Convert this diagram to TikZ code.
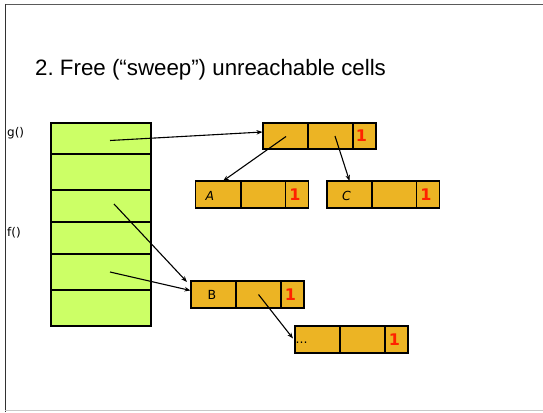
\documentclass[tikz,border=0pt]{standalone}
\usepackage{fontspec}
\setmainfont{Liberation Sans}
\newfontfamily\cellfont{DejaVu Sans}
\newfontfamily\framefont{DejaVu Sans}
\usetikzlibrary{arrows.meta,calc}
\frenchspacing
\definecolor{stackgreen}{RGB}{204,255,102}
\definecolor{cellorange}{RGB}{236,180,36}
\definecolor{countred}{RGB}{255,34,0}
\definecolor{frametop}{RGB}{90,90,90}
\definecolor{frameside}{RGB}{50,50,50}
\definecolor{framebottom}{RGB}{200,200,200}
\tikzset{
  stk/.style={draw=black, line width=1.5pt, fill=stackgreen, minimum width=100pt, inner sep=0pt, outer sep=0pt},
  heapcell/.style={draw=black, line width=1.5pt, fill=cellorange, minimum height=27pt, inner sep=0pt, outer sep=0pt},
  wide/.style={heapcell, minimum width=45pt},
  narrow/.style={heapcell, minimum width=23pt},
  ptr/.style={line width=1.1pt, -{Stealth[length=6pt,width=4.5pt]}},
  cnt/.style={font=\cellfont\bfseries\fontsize{16}{16}\selectfont, text=countred},
  lbl/.style={font=\cellfont\fontsize{12.5}{12.5}\selectfont},
  ilbl/.style={font=\cellfont\itshape\fontsize{12.5}{12.5}\selectfont},
  framelbl/.style={font=\framefont\fontsize{12}{12}\selectfont, anchor=west, inner sep=0pt}
}
\begin{document}
\begin{tikzpicture}[x=1pt,y=-1pt]
\useasboundingbox (0,0) rectangle (543,412);
% slide frame
\draw[frametop, line width=1.3pt] (5,4.5) -- (543,4.5);
\draw[frameside, line width=1.5pt] (5.5,4) -- (5.5,412);
\draw[framebottom, line width=1.2pt] (5,410.8) -- (543,410.8);

% title
\node[anchor=base west, inner sep=0pt, font=\fontsize{22.3}{26}\selectfont] (title) at (35,75) {2. Free (“sweep”) unreachable cells};

% frame labels
\node[framelbl] (gl) at (7,133) {g()};
\node[framelbl] (fl) at (7,233) {f()};

% stack
\node[stk, minimum height=31pt] (s1) at (101,138.5) {};
\node[stk, minimum height=36pt] (s2) at (101,172) {};
\node[stk, minimum height=32pt] (s3) at (101,206) {};
\node[stk, minimum height=32pt] (s4) at (101,238) {};
\node[stk, minimum height=36pt] (s5) at (101,272) {};
\node[stk, minimum height=36pt] (s6) at (101,308) {};

% heap cells: top record
\node[wide, minimum height=26pt] (t1) at (285.5,136) {};
\node[wide, minimum height=26pt] (t2) at (330.5,136) {};
\node[narrow, minimum height=26pt] (t3) at (364.5,136) {};
\node[cnt] at ($(t3)+(-3,0)$) {1};

% record A
\node[wide] (a1) at (218,194.5) {};
\node[wide] (a2) at (263.5,194.5) {};
\node[narrow] (a3) at (297,194.5) {};
\node[ilbl] at ($(a1)+(-8,1)$) {A};
\node[cnt] at ($(a3)+(-2,0)$) {1};

% record C
\node[wide] (c1) at (349.5,194.5) {};
\node[wide] (c2) at (394.5,194.5) {};
\node[narrow] (c3) at (428,194.5) {};
\node[ilbl] at ($(c1)+(-3,1)$) {C};
\node[cnt] at ($(c3)+(-2,0)$) {1};

% record B
\node[wide] (b1) at (213.5,294.5) {};
\node[wide] (b2) at (258.5,294.5) {};
\node[narrow] (b3) at (292.5,294.5) {};
\node[lbl] at ($(b1)+(-1.5,0)$) {B};
\node[cnt] at ($(b3)+(-2,0)$) {1};

% record reached from B
\node[wide] (d1) at (317.5,339.5) {};
\node[wide] (d2) at (362.5,339.5) {};
\node[narrow] (d3) at (396.5,339.5) {};
\node[lbl, anchor=west, inner sep=0pt] at ($(d1.west)+(0.5,3)$) {...};
\node[cnt] at ($(d3)+(-2,0)$) {1};

% pointers
\draw[ptr] ($(s1)+(9,2)$) -- ($(t1.west)+(-0.5,-4)$);
\draw[ptr] ($(s3)+(13,-2)$) -- ($(b1.north west)+(-4,1)$);
\draw[ptr] ($(s5)+(9,0)$) -- ($(b1.west)+(-0.5,-4)$);
\draw[ptr] ($(t1)+(0.5,0.5)$) -- ($(a1.north)+(5,0)$);
\draw[ptr] ($(t2)+(4.5,0)$) -- (c1.north);
\draw[ptr] (b2.center) -- ($(d1.west)+(-2,-1)$);
\end{tikzpicture}
\end{document}
